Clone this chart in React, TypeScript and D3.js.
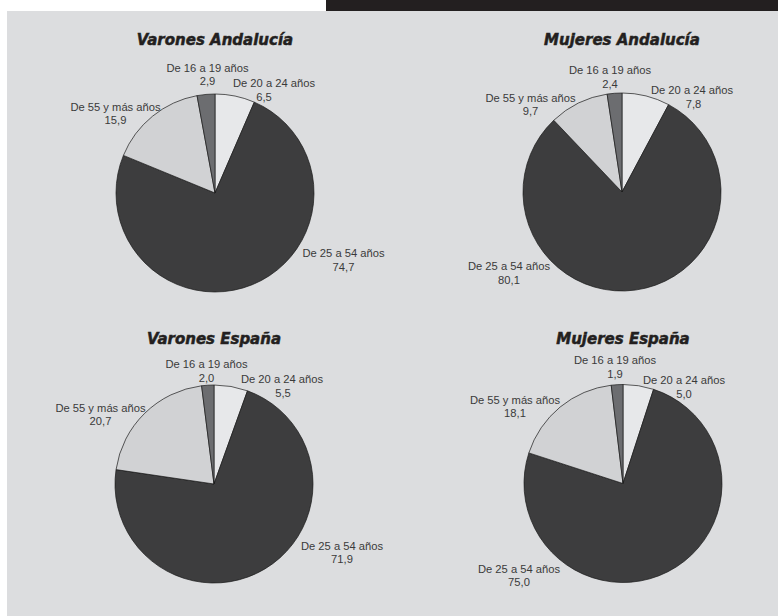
import React, { useEffect, useRef } from 'react';
import * as d3 from 'd3';

// age groups in drawing order (clockwise from 12 o'clock)
const groups = ['De 20 a 24 años', 'De 25 a 54 años', 'De 55 y más años', 'De 16 a 19 años'];
const groupColors = ['#e7e8ea', '#3d3d3e', '#d1d2d4', '#6c6d70'];

const titles = ['Varones Andalucía', 'Mujeres Andalucía', 'Varones España', 'Mujeres España'];

const varonesAndalucia = [6.5, 74.7, 15.9, 2.9];
const mujeresAndalucia = [7.8, 80.1, 9.7, 2.4];
const varonesEspana = [5.5, 71.9, 20.7, 2.0];
const mujeresEspana = [5.0, 75.0, 18.1, 1.9];

const series = [varonesAndalucia, mujeresAndalucia, varonesEspana, mujeresEspana];

// panel layout: pie centre, title baseline, label anchors [x, y, value dx] per group
const panels = [
  { cx: 215, cy: 193, titleY: 45, labels: [[274, 87, -10], [343.5, 257, 0], [115.5, 110.5, 0], [207.5, 71.5, 0]] },
  { cx: 622, cy: 192, titleY: 44.5, labels: [[692, 94, 1.5], [509, 270, 0], [530.5, 101.5, 0], [610, 74, 0]] },
  { cx: 214, cy: 484, titleY: 343.5, labels: [[282, 383, 1], [342, 549.5, 0], [100.5, 411.5, 0], [206.5, 368, 0]] },
  { cx: 623, cy: 483.5, titleY: 344, labels: [[684, 384, 0], [519, 572.5, 0], [515, 403.5, 0], [615, 364, 0]] },
];

const radius = 99;
const fmt = (v: number) => v.toFixed(1).replace('.', ',');

export default function App() {
  const svgRef = useRef<SVGSVGElement>(null);

  useEffect(() => {
    if (!svgRef.current) return;
    const svg = d3.select(svgRef.current);
    svg.selectAll('*').remove();

    // background pieces
    svg.append('rect').attr('x', 0).attr('y', 0).attr('width', 778).attr('height', 616).attr('fill', '#fff');
    svg.append('rect').attr('x', 326).attr('y', 0).attr('width', 452).attr('height', 11).attr('fill', '#231f20');
    svg.append('rect').attr('x', 7).attr('y', 11).attr('width', 771).attr('height', 605).attr('fill', '#dcdddf');

    const pie = d3.pie<number>().sort(null).value(d => d);
    const arc = d3.arc<d3.PieArcDatum<number>>().innerRadius(0).outerRadius(radius);

    series.forEach((values, i) => {
      const p = panels[i];
      const g = svg.append('g');

      g.append('text')
        .attr('x', p.cx)
        .attr('y', p.titleY)
        .attr('text-anchor', 'middle')
        .style('font-family', "'DejaVu Sans', sans-serif")
        .style('font-weight', 'bold')
        .style('font-style', 'italic')
        .style('font-size', '15px')
        .style('fill', '#231f20')
        .style('stroke', '#231f20')
        .style('stroke-width', '0.5px')
        .text(titles[i]);

      g.append('g')
        .attr('transform', `translate(${p.cx},${p.cy})`)
        .selectAll('path')
        .data(pie(values))
        .enter()
        .append('path')
        .attr('d', arc)
        .attr('fill', (d, j) => groupColors[j])
        .attr('stroke', '#1a1a1a')
        .attr('stroke-width', 0.7);

      const lbl = g.selectAll('.lbl')
        .data(values)
        .enter()
        .append('text')
        .attr('class', 'lbl')
        .attr('text-anchor', 'middle')
        .style('font-family', "'Liberation Sans', Arial, sans-serif")
        .style('font-size', '11.2px')
        .style('fill', '#3a3a3a');

      lbl.append('tspan')
        .attr('x', (d, j) => p.labels[j][0])
        .attr('y', (d, j) => p.labels[j][1])
        .text((d, j) => groups[j]);

      lbl.append('tspan')
        .attr('x', (d, j) => p.labels[j][0] + p.labels[j][2])
        .attr('y', (d, j) => p.labels[j][1] + 13.5)
        .text(d => fmt(d));
    });
  }, []);

  return (
    <svg
      ref={svgRef}
      width={778}
      height={616}
      viewBox="0 0 778 616"
      style={{ position: 'absolute', left: 0, top: 0, display: 'block' }}
    />
  );
}
